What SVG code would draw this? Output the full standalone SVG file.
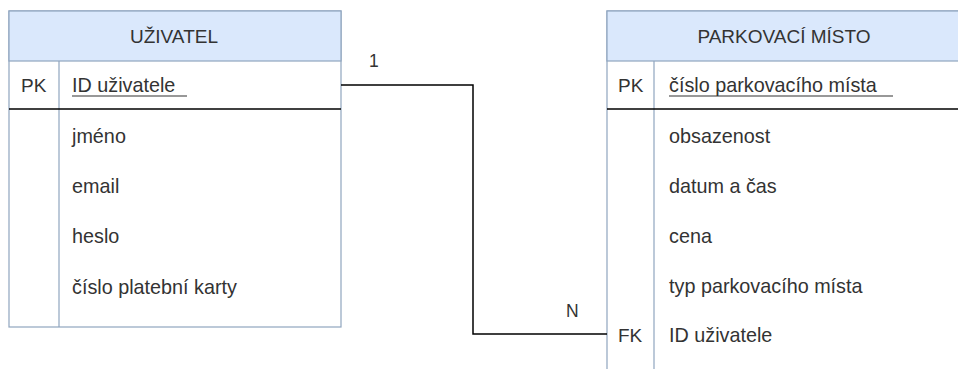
<svg xmlns="http://www.w3.org/2000/svg" width="958" height="369" viewBox="0 0 958 369">
  <style>
    .frame { fill: #ffffff; stroke: #8fa5bf; stroke-width: 1.2; }
    .head { fill: #dae8fc; stroke: #8fa5bf; stroke-width: 1.2; }
    .div { stroke: #8fa5bf; stroke-width: 1.2; }
    .key { stroke: #000000; stroke-width: 1.5; }
    .t { font-family: "Liberation Sans", Arial, sans-serif; font-size: 19.8px; fill: #333333; }
    .h { font-size: 19px; }
    .c { text-anchor: middle; }
    .lbl { font-size: 17.5px; }
    .ul { stroke: #333333; stroke-width: 1.2; }
    .link { fill: none; stroke: #000000; stroke-width: 1.5; }
  </style>

  <!-- entity: UŽIVATEL -->
  <g id="uzivatel">
    <rect class="frame" x="9" y="11" width="332" height="316"/>
    <rect class="head" x="9" y="11" width="332" height="50"/>
    <line class="div" x1="59" y1="61" x2="59" y2="327"/>
    <line class="key" x1="9" y1="109" x2="341" y2="109"/>
    <text class="t h c" x="174" y="43">UŽIVATEL</text>
    <text class="t h" x="21" y="92">PK</text>
    <text class="t" x="72" y="92">ID uživatele</text>
    <line class="ul" x1="72" y1="96" x2="187" y2="96"/>
    <text class="t" x="72" y="143">jméno</text>
    <text class="t" x="72" y="193">email</text>
    <text class="t" x="72" y="243">heslo</text>
    <text class="t" x="72" y="294">číslo platební karty</text>
  </g>

  <!-- entity: PARKOVACÍ MÍSTO -->
  <g id="parkovaci-misto">
    <rect class="frame" x="607" y="11" width="360" height="370"/>
    <rect class="head" x="607" y="11" width="360" height="50"/>
    <line class="div" x1="654" y1="61" x2="654" y2="369"/>
    <line class="key" x1="607" y1="109" x2="958" y2="109"/>
    <text class="t h c" x="784" y="43">PARKOVACÍ MÍSTO</text>
    <text class="t h" x="618" y="92">PK</text>
    <text class="t" x="669" y="92">číslo parkovacího místa</text>
    <line class="ul" x1="669" y1="96" x2="893" y2="96"/>
    <text class="t" x="669" y="143">obsazenost</text>
    <text class="t" x="669" y="193">datum a čas</text>
    <text class="t" x="669" y="243">cena</text>
    <text class="t" x="669" y="293">typ parkovacího místa</text>
    <text class="t h" x="618" y="342">FK</text>
    <text class="t" x="669" y="342">ID uživatele</text>
  </g>

  <!-- relationship 1 : N -->
  <g id="connectors">
    <polyline class="link" points="341,85 473,85 473,334 607,334"/>
    <text class="t lbl" x="369" y="67">1</text>
    <text class="t lbl" x="566" y="317">N</text>
  </g>
</svg>
